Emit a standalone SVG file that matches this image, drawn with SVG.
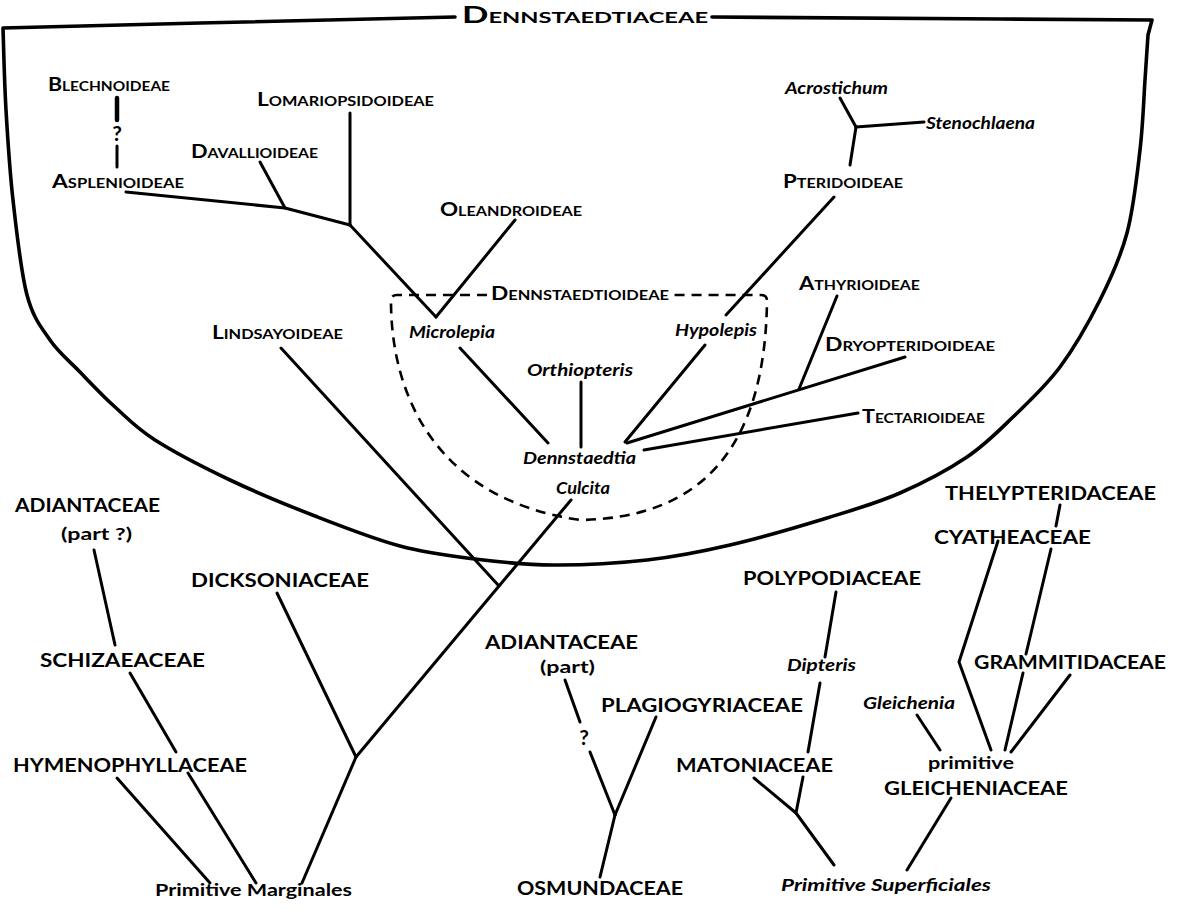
<svg xmlns="http://www.w3.org/2000/svg" width="1180" height="909" viewBox="0 0 1180 909">
<style>
.bg{fill:#fff}
.ln{fill:none;stroke:#000;stroke-width:3;stroke-linecap:round;stroke-linejoin:round}
.bd{fill:none;stroke:#000;stroke-width:3.6;stroke-linecap:round;stroke-linejoin:round}
.ds{fill:none;stroke:#000;stroke-width:2.6;stroke-dasharray:10 7}
text{font-family:Lato,"Open Sans","Liberation Sans",sans-serif;font-weight:700;fill:#000;text-anchor:start}
.sc{font-size:18px;font-variant:small-caps}
.it{font-size:17px;font-style:italic}
.fm{font-size:19px}
.pl{font-size:17px}
.q{font-size:21px;text-anchor:middle}
</style>
<rect class="bg" width="1180" height="909"/>

<g id="boundary">
<path class="bd" d="M455,17 L200,23 L3,28 C3.5,41.7 4.3,81.3 6,110 C7.7,138.7 9.5,169.2 13,200 C16.5,230.8 20.8,271.7 27,295 C33.2,318.3 41.2,327.2 50,340 C58.8,352.8 69.2,360.8 80,372 C90.8,383.2 102.5,395.7 115,407 C127.5,418.3 135.8,427.8 155,440 C174.2,452.2 203.3,467.3 230,480 C256.7,492.7 286.7,505 315,516 C343.3,527 373.3,538.8 400,546 C426.7,553.2 449.5,555.8 475,559 C500.5,562.2 524.3,564.8 553,565 C581.7,565.2 617.5,563.3 647,560 C676.5,556.7 700,552 730,545 C760,538 798.7,526.7 827,518 C855.3,509.3 876.7,503.2 900,493 C923.3,482.8 948.2,469.7 967,457 C985.8,444.3 997.5,432 1013,417 C1028.5,402 1045.5,386.5 1060,367 C1074.5,347.5 1088.8,322.3 1100,300 C1111.2,277.7 1120.3,258 1127,233 C1133.7,208 1137,175.5 1140,150 C1143,124.5 1143.7,99.2 1145,80 C1146.3,60.8 1147.5,42.5 1148,35 L1152,20 L1000,19 L712,17"/>
<text x="462" y="23" style="font-size:22px;font-variant:small-caps" textLength="246" lengthAdjust="spacingAndGlyphs">Dennstaedtiaceae</text>
</g>

<g id="dennstaedtioideae-box">
<path class="ds" d="M487,295 L397,295 Q391,295 391,301 C391,400 440,500 580,520 C700,518 765,450 767,301 Q767,295 761,295 L673,295"/>
<text class="sc" x="491" y="300" textLength="178" lengthAdjust="spacingAndGlyphs">Dennstaedtioideae</text>
</g>

<g id="connectors">
<line class="ln" x1="117" y1="98" x2="117" y2="120" style="stroke-width:4.5"/>
<line class="ln" x1="117" y1="146" x2="117" y2="167"/>
<polyline class="ln" points="126,192 285,208 350,225"/>
<line class="ln" x1="260" y1="162" x2="285" y2="208"/>
<line class="ln" x1="350" y1="113" x2="350" y2="225"/>
<line class="ln" x1="350" y1="225" x2="436" y2="317"/>
<line class="ln" x1="515" y1="220" x2="436" y2="317"/>
<line class="ln" x1="840" y1="98" x2="856" y2="127"/>
<line class="ln" x1="856" y1="127" x2="924" y2="122"/>
<line class="ln" x1="856" y1="127" x2="850" y2="165"/>
<line class="ln" x1="834" y1="197" x2="726" y2="315"/>
<line class="ln" x1="460" y1="348" x2="548" y2="443"/>
<line class="ln" x1="581" y1="382" x2="581" y2="447"/>
<line class="ln" x1="705" y1="345" x2="625" y2="442"/>
<line class="ln" x1="627" y1="443" x2="905" y2="357"/>
<line class="ln" x1="837" y1="296" x2="799" y2="389"/>
<line class="ln" x1="644" y1="450" x2="858" y2="413"/>
<line class="ln" x1="571" y1="500" x2="356" y2="757"/>
<line class="ln" x1="281" y1="348" x2="499" y2="586"/>
<line class="ln" x1="277" y1="593" x2="356" y2="757"/>
<line class="ln" x1="356" y1="757" x2="302" y2="883"/>
<line class="ln" x1="94" y1="550" x2="115" y2="645"/>
<line class="ln" x1="130" y1="673" x2="176" y2="752"/>
<line class="ln" x1="188" y1="773" x2="256" y2="883"/>
<line class="ln" x1="117" y1="778" x2="210" y2="883"/>
<line class="ln" x1="565" y1="680" x2="580" y2="722"/>
<line class="ln" x1="590" y1="752" x2="615" y2="815"/>
<line class="ln" x1="656" y1="717" x2="615" y2="815"/>
<line class="ln" x1="615" y1="815" x2="600" y2="877"/>
<line class="ln" x1="836" y1="592" x2="825" y2="657"/>
<line class="ln" x1="820" y1="683" x2="808" y2="752"/>
<line class="ln" x1="803" y1="777" x2="796" y2="813"/>
<polyline class="ln" points="754,778 796,813 834,865"/>
<line class="ln" x1="917" y1="715" x2="940" y2="750"/>
<line class="ln" x1="951" y1="798" x2="907" y2="870"/>
<polyline class="ln" points="998,541 959,662 991,750"/>
<line class="ln" x1="1060" y1="505" x2="1056" y2="526"/>
<line class="ln" x1="1051" y1="549" x2="1026" y2="654"/>
<line class="ln" x1="1023" y1="673" x2="1005" y2="750"/>
<line class="ln" x1="1070" y1="675" x2="1011" y2="752"/>
<text class="q" x="117" y="141">?</text>
<text class="q" x="584" y="745">?</text>
</g>

<g id="n-blechnoideae"><text class="sc" x="48" y="91" textLength="122" lengthAdjust="spacingAndGlyphs">Blechnoideae</text></g>
<g id="n-lomariopsidoideae"><text class="sc" x="257" y="106" textLength="177" lengthAdjust="spacingAndGlyphs">Lomariopsidoideae</text></g>
<g id="n-davallioideae"><text class="sc" x="191" y="158" textLength="127" lengthAdjust="spacingAndGlyphs">Davallioideae</text></g>
<g id="n-asplenioideae"><text class="sc" x="52" y="188" textLength="132" lengthAdjust="spacingAndGlyphs">Asplenioideae</text></g>
<g id="n-oleandroideae"><text class="sc" x="440" y="216" textLength="142" lengthAdjust="spacingAndGlyphs">Oleandroideae</text></g>
<g id="n-acrostichum"><text class="it" x="785" y="94" textLength="103" lengthAdjust="spacingAndGlyphs">Acrostichum</text></g>
<g id="n-stenochlaena"><text class="it" x="926" y="129" textLength="109" lengthAdjust="spacingAndGlyphs">Stenochlaena</text></g>
<g id="n-pteridoideae"><text class="sc" x="783" y="188" textLength="120" lengthAdjust="spacingAndGlyphs">Pteridoideae</text></g>
<g id="n-athyrioideae"><text class="sc" x="799" y="290" textLength="121" lengthAdjust="spacingAndGlyphs">Athyrioideae</text></g>
<g id="n-dryopteridoideae"><text class="sc" x="825" y="351" textLength="170" lengthAdjust="spacingAndGlyphs">Dryopteridoideae</text></g>
<g id="n-lindsayoideae"><text class="sc" x="212" y="339" textLength="131" lengthAdjust="spacingAndGlyphs">Lindsayoideae</text></g>
<g id="n-tectarioideae"><text class="sc" x="862" y="423" textLength="123" lengthAdjust="spacingAndGlyphs">Tectarioideae</text></g>
<g id="n-microlepia"><text class="it" x="409" y="338" textLength="86" lengthAdjust="spacingAndGlyphs">Microlepia</text></g>
<g id="n-hypolepis"><text class="it" x="675" y="336" textLength="82" lengthAdjust="spacingAndGlyphs">Hypolepis</text></g>
<g id="n-orthiopteris"><text class="it" x="527" y="376" textLength="106" lengthAdjust="spacingAndGlyphs">Orthiopteris</text></g>
<g id="n-dennstaedtia"><text class="it" x="523" y="464" textLength="113" lengthAdjust="spacingAndGlyphs">Dennstaedtia</text></g>
<g id="n-culcita"><text class="it" x="556" y="494" textLength="54" lengthAdjust="spacingAndGlyphs">Culcita</text></g>

<g id="n-adiantaceae-1"><text class="fm" x="15" y="512" textLength="145" lengthAdjust="spacingAndGlyphs">ADIANTACEAE</text><text class="pl" x="61" y="540" textLength="71" lengthAdjust="spacingAndGlyphs">(part ?)</text></g>
<g id="n-dicksoniaceae"><text class="fm" x="191" y="587" textLength="178" lengthAdjust="spacingAndGlyphs">DICKSONIACEAE</text></g>
<g id="n-schizaeaceae"><text class="fm" x="40" y="667" textLength="165" lengthAdjust="spacingAndGlyphs">SCHIZAEACEAE</text></g>
<g id="n-hymenophyllaceae"><text class="fm" x="13" y="772" textLength="234" lengthAdjust="spacingAndGlyphs">HYMENOPHYLLACEAE</text></g>
<g id="n-primitive-marginales"><text class="pl" x="155" y="896" textLength="197" lengthAdjust="spacingAndGlyphs">Primitive Marginales</text></g>
<g id="n-adiantaceae-2"><text class="fm" x="485" y="649" textLength="153" lengthAdjust="spacingAndGlyphs">ADIANTACEAE</text><text class="pl" x="540" y="673" textLength="55" lengthAdjust="spacingAndGlyphs">(part)</text></g>
<g id="n-plagiogyriaceae"><text class="fm" x="601" y="712" textLength="202" lengthAdjust="spacingAndGlyphs">PLAGIOGYRIACEAE</text></g>
<g id="n-osmundaceae"><text class="fm" x="517" y="895" textLength="166" lengthAdjust="spacingAndGlyphs">OSMUNDACEAE</text></g>
<g id="n-polypodiaceae"><text class="fm" x="743" y="585" textLength="178" lengthAdjust="spacingAndGlyphs">POLYPODIACEAE</text></g>
<g id="n-dipteris"><text class="it" x="787" y="671" textLength="69" lengthAdjust="spacingAndGlyphs">Dipteris</text></g>
<g id="n-matoniaceae"><text class="fm" x="676" y="772" textLength="157" lengthAdjust="spacingAndGlyphs">MATONIACEAE</text></g>
<g id="n-primitive-superficiales"><text class="it" x="781" y="891" textLength="210" lengthAdjust="spacingAndGlyphs">Primitive Superficiales</text></g>
<g id="n-thelypteridaceae"><text class="fm" x="945" y="500" textLength="211" lengthAdjust="spacingAndGlyphs">THELYPTERIDACEAE</text></g>
<g id="n-cyatheaceae"><text class="fm" x="934" y="544" textLength="157" lengthAdjust="spacingAndGlyphs">CYATHEACEAE</text></g>
<g id="n-grammitidaceae"><text class="fm" x="974" y="669" textLength="192" lengthAdjust="spacingAndGlyphs">GRAMMITIDACEAE</text></g>
<g id="n-gleichenia"><text class="it" x="863" y="709" textLength="92" lengthAdjust="spacingAndGlyphs">Gleichenia</text></g>
<g id="n-gleicheniaceae"><text class="pl" x="928" y="769" textLength="86" lengthAdjust="spacingAndGlyphs">primitive</text><text class="fm" x="884" y="795" textLength="184" lengthAdjust="spacingAndGlyphs">GLEICHENIACEAE</text></g>
</svg>
